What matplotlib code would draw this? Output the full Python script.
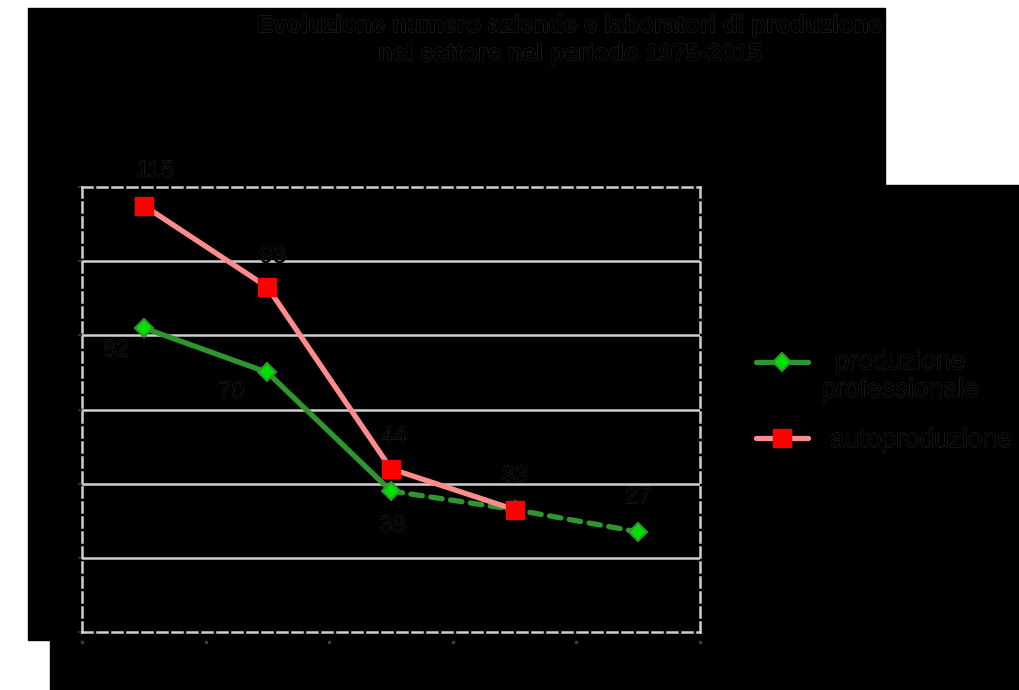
import matplotlib.pyplot as plt
import matplotlib.patheffects as pe
import numpy as np
from matplotlib.patches import Rectangle

plt.rcParams['font.family'] = ['Liberation Sans', 'DejaVu Sans']

# categorie (periodi) e serie
categorie = ['1975', '1985', '1995', '2005', '2015']
professionale = [82, 70, 38, 33, 27]
autoproduzione = [115, 93, 44, 33, np.nan]

etichette_prof = ['82', '70', '38', '', '27']
etichette_auto = ['115', '93', '44', '33', '']

titolo = 'Evoluzione numero aziende e laboratori di produzione\nnel settore nel periodo 1975-2015'

W, H = 1019, 690
fig = plt.figure(figsize=(W / 100, H / 100), dpi=100, facecolor='white')

# fondo nero dell'area grafico
def blocco(x0, y0, x1, y1):
    fig.add_artist(Rectangle((x0 / W, 1 - y1 / H), (x1 - x0) / W, (y1 - y0) / H,
                             transform=fig.transFigure, color='black', zorder=-10))

blocco(28, 8, 885, 640)
blocco(50, 185, 1019, 690)

ax = fig.add_axes([82 / W, 1 - 632 / H, (700 - 82) / W, (632 - 187) / H])
ax.set_facecolor('black')

x = np.arange(len(categorie))
grigio = '#cfcfcf'

for v in [20, 40, 60, 80, 100]:
    ax.axhline(v, color=grigio, lw=1.8, zorder=1)

for s in ax.spines.values():
    s.set_color(grigio)
    s.set_linestyle((0, (4, 2)))
    s.set_linewidth(1.8)

contorno = [pe.Stroke(linewidth=0.4, foreground='#3e3e3e'), pe.Normal()]

# produzione professionale: tratto pieno fino al terzo punto, poi tratteggiato
verde = '#2f962f'
ax.plot(x[:3], professionale[:3], color=verde, lw=3.8, zorder=3, solid_capstyle='round')
ax.plot(x[2:], professionale[2:], color=verde, lw=3.8, ls=(0, (2.2, 1.6)), zorder=3,
        dash_capstyle='round')
ax.plot(x, professionale, ls='none', marker='D', ms=9, mfc='#00e000', mec='#2f962f',
        mew=1.5, zorder=4)

ax.plot(x, autoproduzione, color='#ff8c8c', lw=3.8, zorder=5, solid_capstyle='round')
ax.plot(x, autoproduzione, ls='none', marker='s', ms=13, mfc='#ff0000', mec='#ff0000',
        zorder=6)

# etichette dei valori
off_prof = [(-20, -16), (-26, -14), (1, -25), (0, 0), (0, 25)]
for xi, v, t, o in zip(x, professionale, etichette_prof, off_prof):
    if t:
        ax.annotate(t, (xi, v), xytext=o, textcoords='offset points', ha='center',
                    va='center', fontsize=17, color='black', path_effects=contorno)
off_auto = [(8, 25), (4, 22), (2, 23), (0, 24), (0, 0)]
for xi, v, t, o in zip(x, autoproduzione, etichette_auto, off_auto):
    if t:
        ax.annotate(t, (xi, v), xytext=o, textcoords='offset points', ha='center',
                    va='center', fontsize=17, color='black', path_effects=contorno)

ax.set_xlim(-0.5, 4.5)
ax.set_ylim(0, 120)
ax.set_yticks([0, 20, 40, 60, 80, 100, 120])
ax.set_yticklabels([])
ax.set_xticks(np.arange(-0.5, 5, 1))
ax.set_xticklabels([])
ax.tick_params(axis='both', colors='#3a3a3a', length=3, width=1.2, pad=2)
ax.tick_params(axis='x', direction='out', length=0)
for xt in np.arange(-0.5, 5, 1):
    ax.plot(xt, -2.6, marker='s', ms=1.8, color='#3a3a3a', clip_on=False)

fig.text(570 / W, 1 - 40 / H, titolo, ha='center', va='center', fontsize=17.5,
         fontweight='bold', color='black', linespacing=1.3, path_effects=contorno)

# legenda
legenda_ax = fig.add_axes([0, 0, 1, 1], facecolor='none')
legenda_ax.set_axis_off()
legenda_ax.set_xlim(0, W)
legenda_ax.set_ylim(H, 0)
legenda_ax.plot([756, 808], [362, 362], color=verde, lw=3.8, solid_capstyle='round')
legenda_ax.plot(782, 362, marker='D', ms=9, mfc='#00e000', mec=verde, mew=1.5)
legenda_ax.text(900, 376, 'produzione\nprofessionale', ha='center', va='center',
                fontsize=19, color='black', linespacing=1.2, path_effects=contorno)
legenda_ax.plot([756, 808], [438, 438], color='#ff8c8c', lw=3.8, solid_capstyle='round')
legenda_ax.plot(782, 438, marker='s', ms=12.5, color='#ff0000')
legenda_ax.text(830, 440, 'autoproduzione', ha='left', va='center', fontsize=19,
                color='black', path_effects=contorno)

fig.savefig('out.png', dpi=100, facecolor='white')
